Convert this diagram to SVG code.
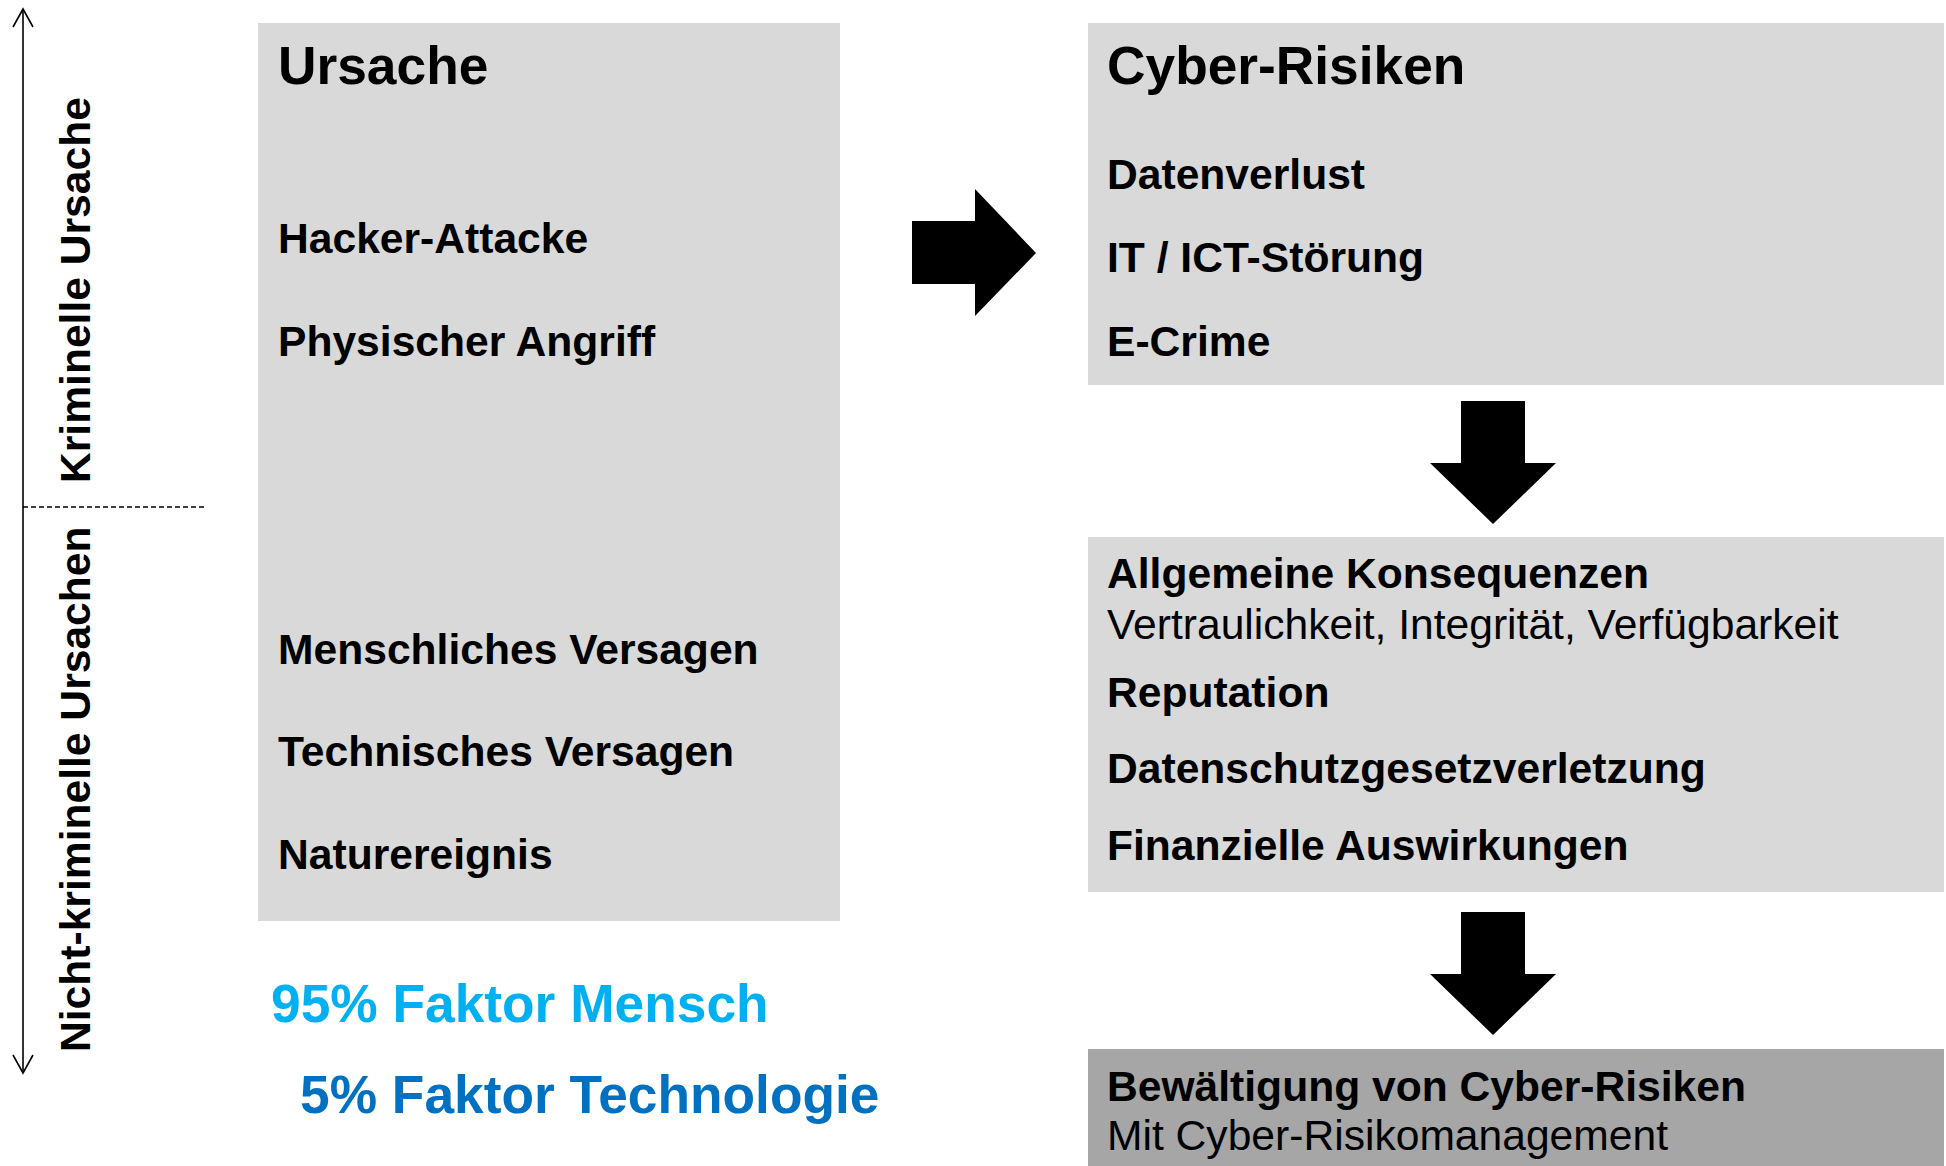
<svg xmlns="http://www.w3.org/2000/svg" width="1946" height="1166" viewBox="0 0 1946 1166">
<style>
text{font-family:"Liberation Sans",Arial,sans-serif;fill:#000}
.b{font-weight:bold;font-size:42.6px}
.r{font-weight:normal;font-size:42.6px}
.t{font-weight:bold;font-size:53.3px}
.box{fill:#d9d9d9}
.dark{fill:#a6a6a6}
.arr{fill:#000}
.axis{fill:none;stroke:#000;stroke-width:1.6}
</style>
<rect width="1946" height="1166" fill="#fff"/>
<g id="axis">
<line class="axis" x1="23" y1="10" x2="23" y2="1072"/>
<polyline class="axis" points="13,27 23,9 33,27"/>
<polyline class="axis" points="13,1055 23,1073 33,1055"/>
<line x1="23" y1="507" x2="205" y2="507" stroke="#000" stroke-width="1.6" stroke-dasharray="5,3"/>
<text class="b" transform="translate(90,483) rotate(-90)">Kriminelle Ursache</text>
<text class="b" transform="translate(90,1052) rotate(-90)">Nicht-kriminelle Ursachen</text>
</g>
<g id="ursache">
<rect class="box" x="258" y="23" width="582" height="898"/>
<text class="t" x="278" y="84">Ursache</text>
<text class="b" x="278" y="253">Hacker-Attacke</text>
<text class="b" x="278" y="356">Physischer Angriff</text>
<text class="b" x="278" y="664">Menschliches Versagen</text>
<text class="b" x="278" y="766">Technisches Versagen</text>
<text class="b" x="278" y="869">Naturereignis</text>
</g>
<g id="faktoren">
<text class="t" x="271" y="1022" style="fill:#00b0f0">95% Faktor Mensch</text>
<text class="t" x="300" y="1113" style="fill:#0070c0">5% Faktor Technologie</text>
</g>
<g id="cyber-risiken">
<rect class="box" x="1088" y="23" width="856" height="362"/>
<text class="t" x="1107" y="84">Cyber-Risiken</text>
<text class="b" x="1107" y="189">Datenverlust</text>
<text class="b" x="1107" y="272">IT / ICT-Störung</text>
<text class="b" x="1107" y="356">E-Crime</text>
</g>
<g id="konsequenzen">
<rect class="box" x="1088" y="537" width="856" height="355"/>
<text class="b" x="1107" y="588">Allgemeine Konsequenzen</text>
<text class="r" x="1107" y="639">Vertraulichkeit, Integrität, Verfügbarkeit</text>
<text class="b" x="1107" y="707">Reputation</text>
<text class="b" x="1107" y="783">Datenschutzgesetzverletzung</text>
<text class="b" x="1107" y="860">Finanzielle Auswirkungen</text>
</g>
<g id="bewaeltigung">
<rect class="dark" x="1088" y="1049" width="856" height="117"/>
<text class="b" x="1107" y="1101">Bewältigung von Cyber-Risiken</text>
<text class="r" x="1107" y="1150">Mit Cyber-Risikomanagement</text>
</g>
<g id="connectors">
<polygon class="arr" points="912,221 975,221 975,189 1036,253 975,316 975,284 912,284"/>
<polygon class="arr" points="1461,401 1525,401 1525,463 1556,463 1493,524 1430,463 1461,463"/>
<polygon class="arr" points="1461,912 1525,912 1525,974 1556,974 1493,1035 1430,974 1461,974"/>
</g>
</svg>
